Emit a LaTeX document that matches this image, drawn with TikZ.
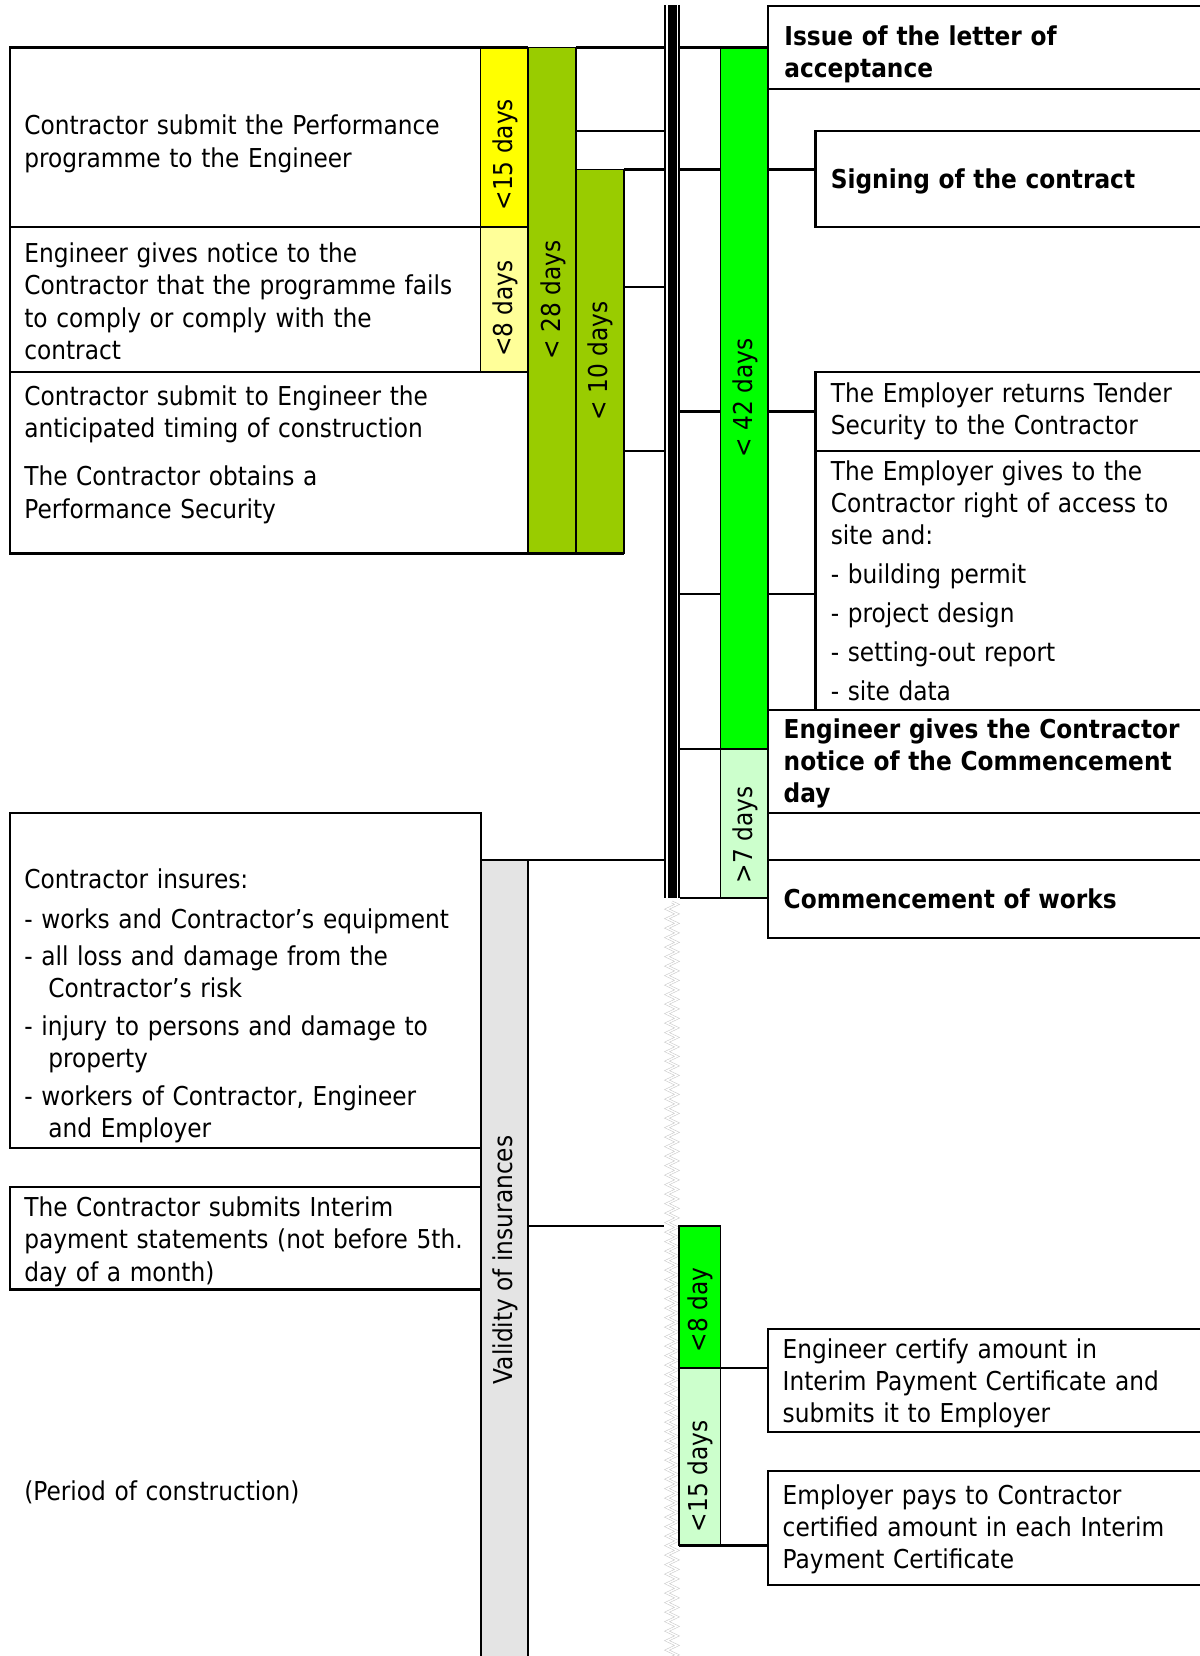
\documentclass[tikz,border=0pt]{standalone}
\usepackage{fontspec}
\setmainfont{DejaVu Sans}[FakeStretch=0.895]
\usetikzlibrary{decorations.pathmorphing}
\definecolor{ylw}{HTML}{FFFF00}
\definecolor{lylw}{HTML}{FFFF99}
\definecolor{barolive}{HTML}{99CC00}
\definecolor{brgreen}{HTML}{00FF00}
\definecolor{lgreen}{HTML}{CCFFCC}
\definecolor{lgray}{HTML}{E4E4E4}
\tikzset{
  box/.style={draw=black, line width=2.2pt, fill=white, anchor=north west, inner sep=0pt, outer sep=0pt},
  bar/.style={draw=black, line width=1.2pt, anchor=north west, inner sep=0pt, outer sep=0pt},
  conn/.style={line width=2.2pt},
  txt/.style={anchor=base west, inner sep=0pt, outer sep=0pt, text width=560pt, align=left, font=\fontsize{26}{32.2}\selectfont},
  btxt/.style={txt, font=\fontsize{26}{32.2}\selectfont\bfseries},
  lbl/.style={rotate=90, inner sep=0pt, font=\fontsize{26}{30}\selectfont}
}
\begin{document}
\begin{tikzpicture}[x=1pt,y=-1pt]
\useasboundingbox (0,0) rectangle (1199,1656);
\fill[white] (0,0) rectangle (1199,1656);

% ---------- upper left ----------
\node[bar, fill=barolive, minimum width=48pt, minimum height=506pt] (bar28) at (528,47.5) {};
\node[bar, fill=barolive, minimum width=48pt, minimum height=384pt] (bar10) at (576,169.5) {};
\node[box, minimum width=470.7pt, minimum height=179.5pt] (boxA) at (10,47.5) {};
\node[bar, fill=ylw, minimum width=47.3pt, minimum height=179.5pt] (ylw15) at (480.7,47.5) {};
\node[box, minimum width=470.7pt, minimum height=145pt] (boxB) at (10,227) {};
\node[bar, fill=lylw, minimum width=47.3pt, minimum height=145pt] (ylw8) at (480.7,227) {};
\node[box, minimum width=518pt, minimum height=181.5pt] (boxC) at (10,372) {};
\draw[conn] (boxA.north west) -- (ylw15.north east);
\draw[conn] (boxC.south west) -- (bar10.south east);

% ---------- spine ----------
\node[inner sep=0pt, outer sep=0pt, anchor=north west, minimum width=16pt, minimum height=893pt] (spine) at (664,5) {};
\draw[line width=1.8pt] ([xshift=0.9pt]spine.north west) -- ([xshift=0.9pt]spine.south west);
\fill ([xshift=4pt]spine.north west) rectangle ([xshift=-3pt]spine.south east);
\draw[line width=1.6pt] ([xshift=-0.8pt]spine.north east) -- ([xshift=-0.8pt]spine.south east);
\draw[decorate, decoration={zigzag, segment length=9.5pt, amplitude=5pt}, draw=black!20, line width=0.6pt, double=white, double distance=1.4pt] ([yshift=-4pt]spine.south) -- (spine.south |- 0,1670);

% left connectors
\draw[conn] (bar28.north east) -- (spine.west |- bar28.north);
\draw[conn] (bar28.east |- 0,131) -- (spine.west |- 0,131);
\draw[conn] (bar10.north east) -- (spine.west |- bar10.north);
\draw[conn] (bar10.east |- 0,287) -- (spine.west |- 0,287);
\draw[conn] (bar10.east |- 0,451) -- (spine.west |- 0,451);

% ---------- upper right ----------
\node[bar, fill=brgreen, minimum width=47.5pt, minimum height=701.5pt] (bar42) at (720.5,47.5) {};
\node[bar, fill=lgreen, minimum width=47.5pt, minimum height=149pt] (bar7) at (720.5,749) {};
\node[box, minimum width=450pt, minimum height=83.3pt] (issue) at (768,6) {};
\node[box, minimum width=400pt, minimum height=96pt] (sig) at (815.5,131) {};
\node[box, minimum width=400pt, minimum height=78.4pt] (tender) at (815.5,372.3) {};
\node[box, minimum width=400pt, minimum height=259.3pt] (access) at (815.5,450.7) {};
\node[box, minimum width=450pt, minimum height=102.7pt] (notice) at (768,710) {};
\node[box, minimum width=450pt, minimum height=47.3pt] (blank) at (768,812.7) {};
\node[box, minimum width=450pt, minimum height=78pt] (comm) at (768,860) {};

% right connectors
\draw[conn] (spine.east |- bar42.north) -- (bar42.north east);
\draw[conn] (spine.east |- bar10.north) -- (bar42.west |- bar10.north);
\draw[conn] (bar42.east |- bar10.north) -- (sig.west |- bar10.north);
\draw[conn] (spine.east |- tender.west) -- (bar42.west |- tender.west);
\draw[conn] (bar42.east |- tender.west) -- (tender.west);
\draw[conn] (spine.east |- 0,593.7) -- (bar42.west |- 0,593.7);
\draw[conn] (bar42.east |- 0,593.7) -- (access.west |- 0,593.7);
\draw[conn] (spine.east |- bar7.north) -- (bar7.north west);
\draw[conn] (spine.south east) -- (comm.west |- spine.south);

% ---------- lower part ----------
\node[bar, fill=lgray, minimum width=47.3pt, minimum height=820pt] (validity) at (480.7,860) {};
\draw[line width=2.2pt] (validity.north west) -- (validity.south west);
\node[box, minimum width=470.7pt, minimum height=335pt] (insure) at (10,812.7) {};
\node[box, minimum width=470.7pt, minimum height=102.5pt] (interim) at (10,1187) {};
\draw[conn] (validity.north east) -- (spine.west |- validity.north);
\node[bar, fill=brgreen, minimum width=41.5pt, minimum height=142pt] (green8) at (679,1226) {};
\node[bar, fill=lgreen, minimum width=41.5pt, minimum height=177.5pt] (green15) at (679,1368) {};
\draw[conn] (validity.east |- green8.north) -- (spine.west |- green8.north);
\draw[conn] (green8.north west) -- (green8.north east);
\node[box, minimum width=450pt, minimum height=103pt] (certify) at (768,1329) {};
\node[box, minimum width=450pt, minimum height=114pt] (pays) at (768,1471) {};
\draw[conn] (green8.south east) -- (certify.west |- green8.south);
\draw[conn] (green15.south west) -- (pays.west |- green15.south);

% ---------- rotated labels ----------
\node[lbl] (l15) at (505,154.7) {<15 days};
\node[lbl] (l8) at (505,308.5) {<8 days};
\node[lbl] (l28) at (553,300) {< 28 days};
\node[lbl] (l10) at (600.5,361) {< 10 days};
\node[lbl] (l42) at (745.5,397.7) {< 42 days};
\node[lbl] (l7) at (745.5,835) {>7 days};
\node[lbl] (l8d) at (700.5,1310) {<8 day};
\node[lbl] (l15b) at (700.5,1476.5) {<15 days};
\node[lbl] (lval) at (505.5,1260) {Validity of insurances};

% ---------- texts ----------
\node[txt] (tA) at (24.3,135) {Contractor submit the Performance\\programme to the Engineer};
\node[txt] (tB) at (24.3,262.7) {Engineer gives notice to the\\Contractor that the programme fails\\to comply or comply with the\\contract};
\node[txt] (tC) at (24.3,405.7) {Contractor submit to Engineer the\\anticipated timing of construction\\[15.8pt]The Contractor obtains a\\Performance Security};
\node[btxt] (tIssue) at (784.4,45.7) {Issue of the letter of\\acceptance};
\node[btxt] (tSig) at (830.8,188.3) {Signing of the contract};
\node[txt] (tTender) at (830.8,402.3) {The Employer returns Tender\\Security to the Contractor};
\node[txt] (tAccess) at (830.8,480) {The Employer gives to the\\Contractor right of access to\\site and:\\[6.8pt]- building permit\\[6.8pt]- project design\\[6.8pt]- setting-out report\\[6.8pt]- site data};
\node[btxt] (tNotice) at (783.7,738.3) {\makebox[401.8pt][s]{Engineer gives the Contractor}\\\makebox[401.8pt][s]{notice of the Commencement}\\day};
\node[btxt] (tComm) at (783.7,908.3) {Commencement of works};
\node[txt] (tInsure) at (24.3,888.3) {Contractor insures:\\[7.8pt]- works and Contractor’s equipment\\[5.2pt]- all loss and damage from the\\\hspace*{24pt}Contractor’s risk\\[5.2pt]- injury to persons and damage to\\\hspace*{24pt}property\\[6pt]- workers of Contractor, Engineer\\\hspace*{24pt}and Employer};
\node[txt] (tInterim) at (24.3,1216.7) {The Contractor submits Interim\\payment statements (not before 5th.\\day of a month)};
\node[txt] (tPeriod) at (24.3,1500) {(Period of construction)};
\node[txt] (tCertify) at (782.7,1358.3) {Engineer certify amount in\\Interim Payment Certificate and\\submits it to Employer};
\node[txt] (tPays) at (782.7,1504) {Employer pays to Contractor\\certified amount in each Interim\\Payment Certificate};
\end{tikzpicture}
\end{document}
